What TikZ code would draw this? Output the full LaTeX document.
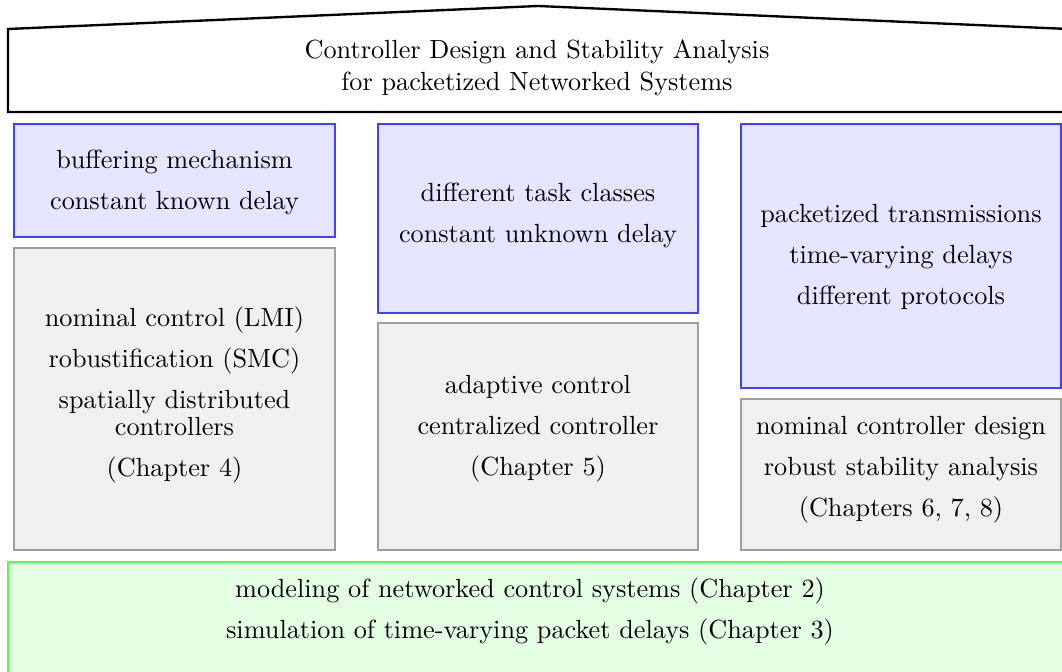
\documentclass[tikz,border=0pt]{standalone}
\usetikzlibrary{fit}
\tikzset{
  topic/.style={draw=blue!75, fill=blue!10, line width=0.8pt, inner sep=0pt},
  result/.style={draw=black!38, fill=black!6, line width=0.8pt, inner sep=0pt},
  base/.style={draw=green!70, fill=green!10, line width=0.8pt, inner sep=0pt},
  roof/.style={draw=black, line width=0.9pt, fill=white},
  caption/.style={align=center, inner sep=0pt}
}
\newcommand{\gap}{\\[3.6pt]}
\newcommand{\wrapgap}{\\[-1.5pt]}
\begin{document}
\begin{tikzpicture}[x=0.381pt, y=-0.381pt]
\useasboundingbox (0,0) rectangle (1062,672);

% roof with the title
\draw[roof] (8,112) -- (8,29) -- (538,6) -- (1068,29) -- (1068,112) -- cycle;
\node[caption] (title) at (537,68) {Controller Design and Stability Analysis\\for packetized Networked Systems};

% left column
\node[topic, fit={(14,124) (335,237)}] (t1) {};
\node[caption] (t1text) at (174.5,182) {buffering mechanism\gap constant known delay};
\node[result, fit={(14,248) (335,550)}] (r1) {};
\node[caption] (r1text) at (174.5,395) {nominal control (LMI)\gap robustification (SMC)\gap spatially distributed\wrapgap controllers\gap (Chapter 4)};

% middle column
\node[topic, fit={(378,124) (698,313)}] (t2) {};
\node[caption] (t2text) at (538,215) {different task classes\gap constant unknown delay};
\node[result, fit={(378,323) (698,550)}] (r2) {};
\node[caption] (r2text) at (538,428.5) {adaptive control\gap centralized controller\gap (Chapter 5)};

% right column
\node[topic, fit={(741,124) (1061,388)}] (t3) {};
\node[caption] (t3text) at (901,257) {packetized transmissions\gap time-varying delays\gap different protocols};
\node[result, fit={(741,399) (1061,550)}] (r3) {};
\node[caption] (r3text) at (901,469.5) {nominal controller design\gap robust stability analysis\gap (Chapters 6, 7, 8)};

% foundation
\node[base, fit={(8,562) (1068,690)}] (foundation) {};
\node[caption] (basetext) at (530,611) {modeling of networked control systems (Chapter 2)\gap simulation of time-varying packet delays (Chapter 3)};
\end{tikzpicture}
\end{document}
